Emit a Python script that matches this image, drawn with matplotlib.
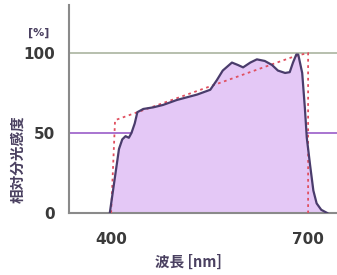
import matplotlib.pyplot as plt
import numpy as np

plt.rcParams['font.family'] = ['Noto Sans CJK JP', 'DejaVu Sans']

# 実測の相対分光感度 (読み取り値)
wl = [398, 405, 412, 417, 422, 427, 431, 436, 440, 449, 464, 479, 500, 531,
      551, 561, 570, 584, 593, 601, 612, 622, 634, 645, 654, 665, 672, 677,
      682, 685, 691, 695, 698, 703, 708, 713, 720, 729]
sens = [0, 20, 40, 46, 48, 47, 50, 56, 63, 65, 66, 67.5, 70.6, 74,
        77, 83, 89, 94, 92.5, 91, 94, 96, 95, 92.5, 89, 87.5, 88, 94,
        99, 99, 87.5, 66, 47, 30, 14, 6, 2, 0]

# 理想特性 (点線)
ideal_wl = [400, 406, 680, 700, 700]
ideal_val = [0, 58, 98, 100, 0]

xticks = [400, 700]
yticks = [0, 50, 100]

fig = plt.figure(figsize=(3.37, 2.75), dpi=100)
ax = fig.add_axes([0.205, 0.2255, 0.795, 0.7565])

ax.axhline(100, color='#aab4a0', lw=1.2, zorder=1)
ax.axhline(50, color='#9a5cc8', lw=1.2, zorder=1)

ax.fill_between(wl, sens, 0, color='#e4c8f6', lw=0, zorder=2)
ax.plot(ideal_wl, ideal_val, color='#e05060', lw=1.3, ls=(0, (1.5, 2)), zorder=3)
ax.plot(wl, sens, color='#4a3c6c', lw=1.6, zorder=4)

ax.set_xlim(336, 744)
ax.set_ylim(0, 130)
ax.set_xticks(xticks)
ax.set_yticks(yticks)
ax.tick_params(length=0, labelsize=11, colors='#3a3a3a', pad=10)
for lab in ax.get_xticklabels() + ax.get_yticklabels():
    lab.set_fontweight('bold')
    lab.set_family('DejaVu Sans')
ax.tick_params(axis='x', pad=14)

for s in ['top', 'right']:
    ax.spines[s].set_visible(False)
for s in ['left', 'bottom']:
    ax.spines[s].set_color('#8a8a8a')
    ax.spines[s].set_linewidth(1.5)

fig.text(0.115, 0.88, '[%]', fontsize=8, fontweight='bold', color='#4a4060',
         ha='center', va='center', family='DejaVu Sans')
fig.text(0.558, 0.047, '波長 [nm]', fontsize=10.5, fontweight='bold',
         color='#4a4060', ha='center', va='center')
fig.text(0.052, 0.42, '相対分光感度', fontsize=10.5, fontweight='bold',
         color='#4a4060', ha='center', va='center', rotation=90)

fig.savefig('out.png', dpi=100)
